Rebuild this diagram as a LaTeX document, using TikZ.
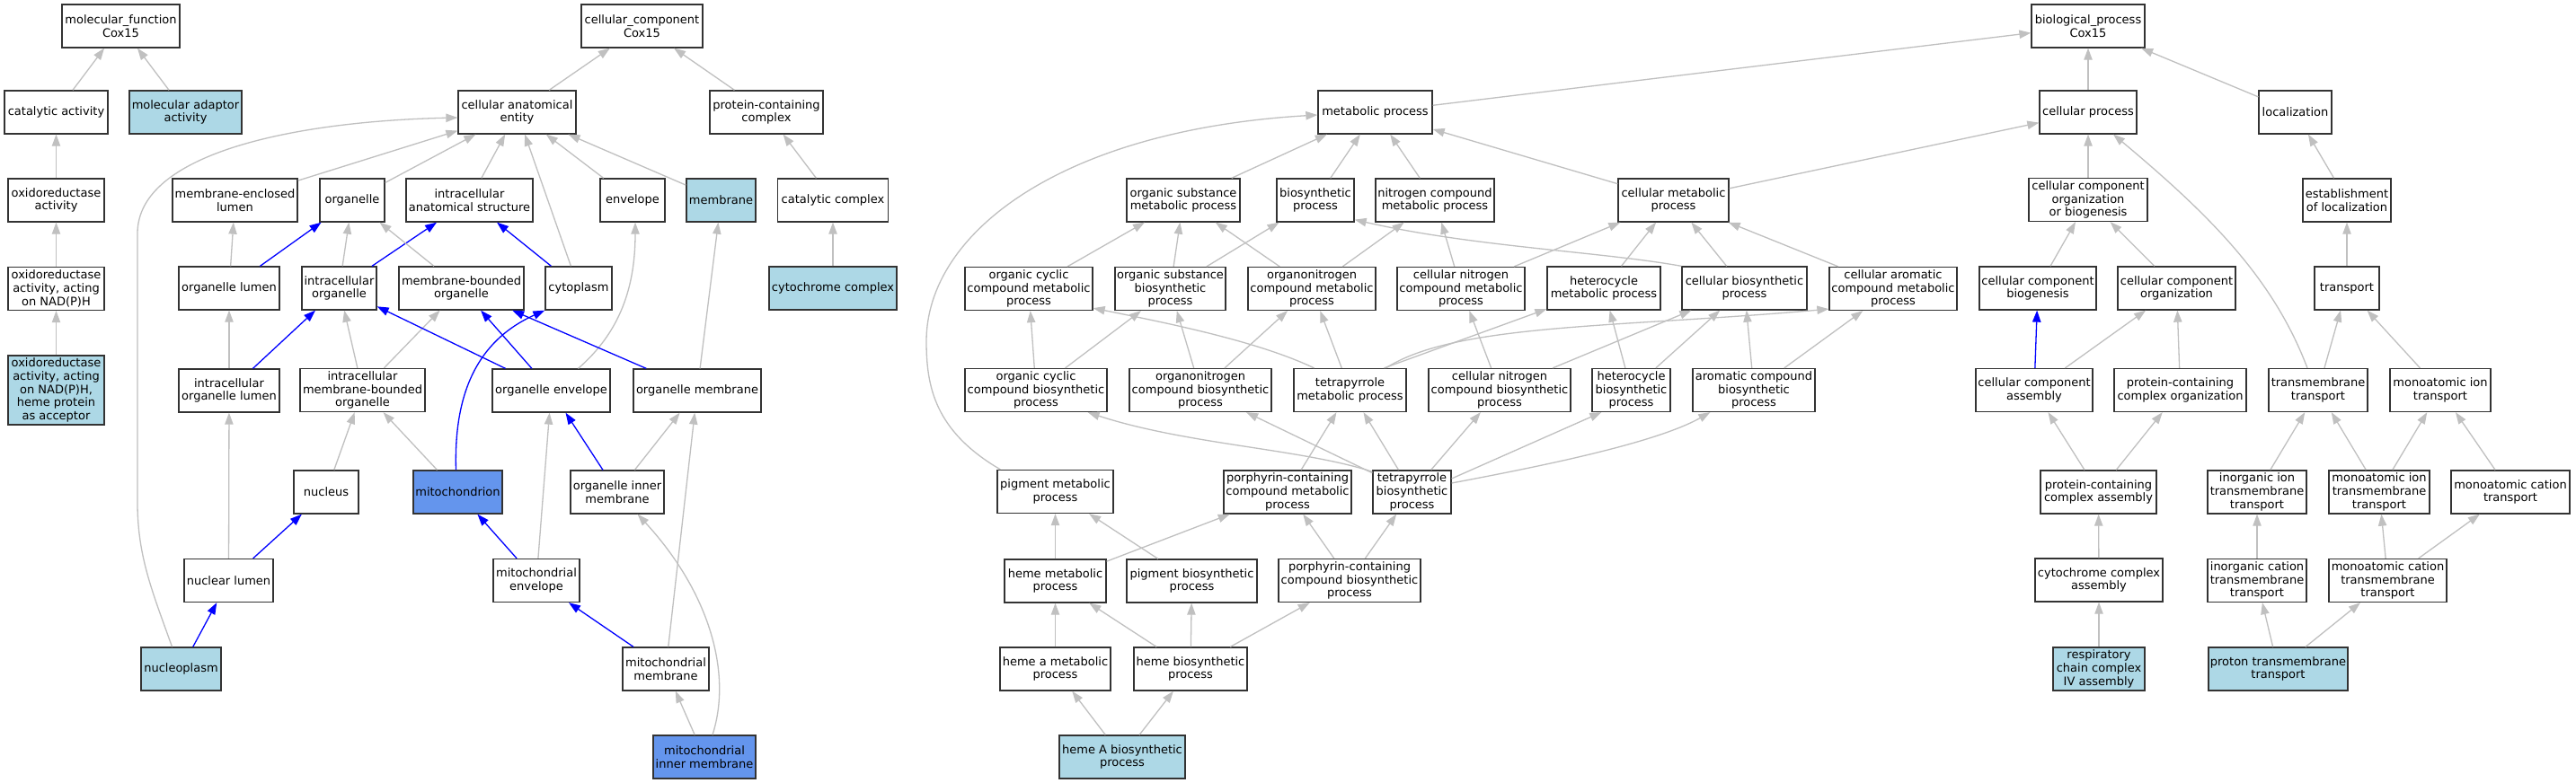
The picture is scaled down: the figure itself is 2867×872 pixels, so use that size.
\documentclass[tikz,border=0pt]{standalone}
\usepackage{fontspec}
\setmainfont{DejaVu Sans}
\usetikzlibrary{arrows.meta}
\definecolor{edgegray}{HTML}{C0C0C0}
\definecolor{lightblue}{HTML}{ADD8E6}
\definecolor{cornflower}{HTML}{6495ED}

\begin{document}
\begin{tikzpicture}[x=1pt,y=-1pt,
    goterm/.style={draw=black!80, line width=1.3pt, fill=white, align=center, inner sep=1pt,
      minimum height=48pt, font=\fontsize{13}{14.7}\selectfont},
    goleaf/.style={goterm, fill=lightblue},
    gohit/.style={goterm, fill=cornflower},
    isa/.style={draw=edgegray, line width=1.3pt, -{Triangle[length=13pt,width=9.3pt]}},
    partof/.style={isa, draw=blue}]
                    \useasboundingbox (0,0) rectangle (2867,872);
                    \fill[white] (0,0) rectangle (2867,872);

                    \node[goterm, minimum width=131pt] (mf) at (134.5,29) {molecular\_function\\Cox15};
                    \node[goterm, minimum width=115pt] (catact) at (62.5,125) {catalytic activity};
                    \node[goleaf, minimum width=125pt] (molad) at (206.5,125) {molecular adaptor\\activity};
                    \node[goterm, minimum width=107pt] (oxred) at (62.5,223) {oxidoreductase\\activity};
                    \node[goterm, minimum width=107pt] (oxnad) at (62.5,321.5) {oxidoreductase\\activity, acting\\on NAD(P)H};
                    \node[goleaf, minimum width=107pt, minimum height=77pt] (oxheme) at (62.5,434.5) {oxidoreductase\\activity, acting\\on NAD(P)H,\\heme protein\\as acceptor};

                    \node[goterm, minimum width=135pt] (cc) at (714.5,29) {cellular\_component\\Cox15};
                    \node[goterm, minimum width=131pt] (cae) at (575.5,125) {cellular anatomical\\entity};
                    \node[goterm, minimum width=126pt] (pcc) at (853,125) {protein-containing\\complex};
                    \node[goterm, minimum width=139pt] (mel) at (261.5,223) {membrane-enclosed\\lumen};
                    \node[goterm, minimum width=72pt] (organelle) at (392,223) {organelle};
                    \node[goterm, minimum width=141pt] (ias) at (522.5,223) {intracellular\\anatomical structure};
                    \node[goterm, minimum width=72pt] (envelope) at (704,223) {envelope};
                    \node[goleaf, minimum width=77pt] (membrane) at (802.5,223) {membrane};
                    \node[goterm, minimum width=123pt] (catcx) at (927,223) {catalytic complex};
                    \node[goterm, minimum width=112pt] (ol) at (255,321) {organelle lumen};
                    \node[goterm, minimum width=83pt] (io) at (377.5,321) {intracellular\\organelle};
                    \node[goterm, minimum width=139pt] (mbo) at (513.5,321) {membrane-bounded\\organelle};
                    \node[goterm, minimum width=74pt] (cytoplasm) at (644,321) {cytoplasm};
                    \node[goleaf, minimum width=142pt] (cytcx) at (927,321) {cytochrome complex};
                    \node[goterm, minimum width=112pt] (iol) at (255,435) {intracellular\\organelle lumen};
                    \node[goterm, minimum width=139pt] (imbo) at (403.5,434.5) {intracellular\\membrane-bounded\\organelle};
                    \node[goterm, minimum width=131pt] (oe) at (613.5,435) {organelle envelope};
                    \node[goterm, minimum width=142pt] (om) at (776,435) {organelle membrane};
                    \node[goterm, minimum width=72pt] (nucleus) at (363,548) {nucleus};
                    \node[gohit, minimum width=99pt] (mito) at (509.5,548) {mitochondrion};
                    \node[goterm, minimum width=104pt] (oim) at (687,548) {organelle inner\\membrane};
                    \node[goterm, minimum width=99pt] (nl) at (254.5,646.5) {nuclear lumen};
                    \node[goterm, minimum width=96pt] (me) at (597,646.5) {mitochondrial\\envelope};
                    \node[goleaf, minimum width=89pt] (np) at (201.5,745) {nucleoplasm};
                    \node[goterm, minimum width=96pt] (mm) at (741,745) {mitochondrial\\membrane};
                    \node[gohit, minimum width=114pt] (mim) at (784,843) {mitochondrial\\inner membrane};

                    \node[goterm, minimum width=126pt] (bp) at (2324,29) {biological\_process\\Cox15};
                    \node[goterm, minimum width=127pt] (mp) at (1530.5,125) {metabolic process};
                    \node[goterm, minimum width=108pt] (cp) at (2324,125) {cellular process};
                    \node[goterm, minimum width=81pt] (loc) at (2554.5,125) {localization};
                    \node[goterm, minimum width=126pt] (osmp) at (1317,223) {organic substance\\metabolic process};
                    \node[goterm, minimum width=86pt] (bsp) at (1464,223) {biosynthetic\\process};
                    \node[goterm, minimum width=132pt] (ncmp) at (1597,223) {nitrogen compound\\metabolic process};
                    \node[goterm, minimum width=123pt] (cmp) at (1862.5,223) {cellular metabolic\\process};
                    \node[goterm, minimum width=132pt] (ccob) at (2324,222.5) {cellular component\\organization\\or biogenesis};
                    \node[goterm, minimum width=98pt] (eol) at (2612,223) {establishment\\of localization};
                    \node[goterm, minimum width=142pt] (occmp) at (1145,321.5) {organic cyclic\\compound metabolic\\process};
                    \node[goterm, minimum width=123pt] (osbp) at (1302.5,321.5) {organic substance\\biosynthetic\\process};
                    \node[goterm, minimum width=142pt] (oncmp) at (1460,321.5) {organonitrogen\\compound metabolic\\process};
                    \node[goterm, minimum width=142pt] (cncmp) at (1626,321.5) {cellular nitrogen\\compound metabolic\\process};
                    \node[goterm, minimum width=126pt] (hmp) at (1785,321) {heterocycle\\metabolic process};
                    \node[goterm, minimum width=139pt] (cbp) at (1941.5,321) {cellular biosynthetic\\process};
                    \node[goterm, minimum width=142pt] (cacmp) at (2107,321.5) {cellular aromatic\\compound metabolic\\process};
                    \node[goterm, minimum width=130pt] (ccb) at (2268,321) {cellular component\\biogenesis};
                    \node[goterm, minimum width=131pt] (cco) at (2422.5,321) {cellular component\\organization};
                    \node[goterm, minimum width=72pt] (transport) at (2612,321) {transport};
                    \node[goterm, minimum width=158pt] (occbp) at (1153,434.5) {organic cyclic\\compound biosynthetic\\process};
                    \node[goterm, minimum width=158pt] (oncbp) at (1336,434.5) {organonitrogen\\compound biosynthetic\\process};
                    \node[goterm, minimum width=125pt] (tmp) at (1502.5,434.5) {tetrapyrrole\\metabolic process};
                    \node[goterm, minimum width=158pt] (cncbp) at (1669,434.5) {cellular nitrogen\\compound biosynthetic\\process};
                    \node[goterm, minimum width=87pt] (hbp) at (1815.5,434.5) {heterocycle\\biosynthetic\\process};
                    \node[goterm, minimum width=136pt] (acbp) at (1952,434.5) {aromatic compound\\biosynthetic\\process};
                    \node[goterm, minimum width=130pt] (cca) at (2264,434.5) {cellular component\\assembly};
                    \node[goterm, minimum width=147pt] (pcco) at (2426.5,434.5) {protein-containing\\complex organization};
                    \node[goterm, minimum width=110pt] (tt) at (2580,434.5) {transmembrane\\transport};
                    \node[goterm, minimum width=112pt] (mit) at (2716,434.5) {monoatomic ion\\transport};
                    \node[goterm, minimum width=129pt] (pmp) at (1174.5,547.5) {pigment metabolic\\process};
                    \node[goterm, minimum width=142pt] (pccmp) at (1433,548) {porphyrin-containing\\compound metabolic\\process};
                    \node[goterm, minimum width=87pt] (tbp) at (1571.5,548) {tetrapyrrole\\biosynthetic\\process};
                    \node[goterm, minimum width=129pt] (pcca) at (2335.5,548) {protein-containing\\complex assembly};
                    \node[goterm, minimum width=110pt] (iitt) at (2512,548) {inorganic ion\\transmembrane\\transport};
                    \node[goterm, minimum width=112pt] (mitt) at (2648,548) {monoatomic ion\\transmembrane\\transport};
                    \node[goterm, minimum width=132pt] (mct) at (2794,548) {monoatomic cation\\transport};
                    \node[goterm, minimum width=113pt] (hemp) at (1174.5,647) {heme metabolic\\process};
                    \node[goterm, minimum width=145pt] (pbp) at (1326.5,647) {pigment biosynthetic\\process};
                    \node[goterm, minimum width=158pt] (pccbp) at (1502,646.5) {porphyrin-containing\\compound biosynthetic\\process};
                    \node[goterm, minimum width=142pt] (ccas) at (2336,646) {cytochrome complex\\assembly};
                    \node[goterm, minimum width=110pt] (ictt) at (2512,646.5) {inorganic cation\\transmembrane\\transport};
                    \node[goterm, minimum width=131pt] (mctt) at (2657.5,646.5) {monoatomic cation\\transmembrane\\transport};
                    \node[goterm, minimum width=123pt] (hamp) at (1174.5,745) {heme a metabolic\\process};
                    \node[goterm, minimum width=126pt] (hbsp) at (1325,745) {heme biosynthetic\\process};
                    \node[goleaf, minimum width=102pt] (rcc) at (2336,745) {respiratory\\chain complex\\IV assembly};
                    \node[goleaf, minimum width=155pt] (ptt) at (2535.5,745) {proton transmembrane\\transport};
                    \node[goleaf, minimum width=140pt] (habp) at (1249,843) {heme A biosynthetic\\process};

                    \draw[isa] (catact) -- (mf);
                    \draw[isa] (molad) -- (mf);
                    \draw[isa] (oxred) -- (catact);
                    \draw[isa] (oxnad) -- (oxred);
                    \draw[isa] (oxheme) -- (oxnad);

                    \draw[isa] (cae) -- (cc);
                    \draw[isa] (pcc) -- (cc);
                    \draw[isa] (catcx) -- (pcc);
                    \draw[isa] (cytcx) -- (catcx);
                    \draw[isa] (mel) -- (cae);
                    \draw[isa] (organelle) -- (cae);
                    \draw[isa] (ias) -- (cae);
                    \draw[isa] (cytoplasm) -- (cae);
                    \draw[isa] (envelope) -- (cae);
                    \draw[isa] (membrane) -- (cae);
                    \draw[isa] ([xshift=-10pt]np.north) .. controls (170,660) and (153,620) .. (153,560) -- (153,260) .. controls (153,170) and (330,135) .. ([yshift=-6pt]cae.west);
                    \draw[isa] (ol) -- (mel);
                    \draw[partof] (ol) -- (organelle);
                    \draw[isa] (io) -- (organelle);
                    \draw[partof] (io) -- (ias);
                    \draw[isa] (mbo) -- (organelle);
                    \draw[partof] (cytoplasm) -- (ias);
                    \draw[isa] (iol) -- (ol);
                    \draw[partof] (iol) -- (io);
                    \draw[isa] (imbo) -- (io);
                    \draw[isa] (imbo) -- (mbo);
                    \draw[partof] (oe) -- (io);
                    \draw[partof] (oe) -- (mbo);
                    \draw[isa] ([xshift=30pt]oe.north) .. controls (690,370) and (707,320) .. ([xshift=3pt]envelope.south);
                    \draw[partof] (om) -- (mbo);
                    \draw[isa] (om) -- (membrane);
                    \draw[partof] ([xshift=-2pt]mito.north) .. controls (505,440) and (530,380) .. (cytoplasm.south west);
                    \draw[isa] (mito) -- (imbo);
                    \draw[isa] (nucleus) -- (imbo);
                    \draw[isa] (nl) -- (iol);
                    \draw[partof] (nl) -- (nucleus);
                    \draw[partof] (np) -- (nl);
                    \draw[partof] (oim) -- (oe);
                    \draw[isa] (oim) -- (om);
                    \draw[partof] (me) -- (mito);
                    \draw[isa] (me) -- (oe);
                    \draw[partof] (mm) -- (me);
                    \draw[isa] (mm) -- (om);
                    \draw[isa] (mim) -- (mm);
                    \draw[isa] ([xshift=9pt]mim.north) .. controls (815,750) and (790,660) .. (oim);

                    \draw[isa] (mp) -- (bp);
                    \draw[isa] (cp) -- (bp);
                    \draw[isa] (loc) -- (bp);
                    \draw[isa] (osmp) -- (mp);
                    \draw[isa] (bsp) -- (mp);
                    \draw[isa] (ncmp) -- (mp);
                    \draw[isa] (cmp) -- (mp);
                    \draw[isa] (cmp) -- (cp);
                    \draw[isa] ([xshift=4pt]pmp.north west) .. controls (1040,480) and (1031,430) .. (1031,380) .. controls (1031,260) and (1180,145) .. ([yshift=-3pt]mp.west);
                    \draw[isa] (occmp) -- (osmp);
                    \draw[isa] (osbp) -- (osmp);
                    \draw[isa] (osbp) -- (bsp);
                    \draw[isa] (oncmp) -- (osmp);
                    \draw[isa] (oncmp) -- (ncmp);
                    \draw[isa] (cncmp) -- (ncmp);
                    \draw[isa] (cncmp) -- (cmp);
                    \draw[isa] (hmp) -- (cmp);
                    \draw[isa] (cbp) -- (cmp);
                    \draw[isa] (cbp.north west) .. controls (1780,280) and (1640,275) .. ([yshift=3pt]bsp.south east);
                    \draw[isa] (cacmp) -- (cmp);
                    \draw[isa] (occbp) -- (occmp);
                    \draw[isa] (occbp) -- (osbp);
                    \draw[isa] (oncbp) -- (osbp);
                    \draw[isa] (oncbp) -- (oncmp);
                    \draw[isa] ([xshift=-40pt]tmp.north) .. controls (1400,380) and (1300,360) .. ([yshift=3pt]occmp.south east);
                    \draw[isa] (tmp) -- (oncmp);
                    \draw[isa] ([xshift=38pt]tmp.north) -- (hmp);
                    \draw[isa] ([xshift=40pt]tmp.north) .. controls (1620,360) and (1800,365) .. ([yshift=2pt]cacmp.south west);
                    \draw[isa] (cncbp) -- (cncmp);
                    \draw[isa] (cncbp) -- (cbp);
                    \draw[isa] (hbp) -- (hmp);
                    \draw[isa] (hbp) -- (cbp);
                    \draw[isa] (acbp) -- (cbp);
                    \draw[isa] (acbp) -- (cacmp);
                    \draw[isa] (tbp) -- (tmp);
                    \draw[isa] (tbp) -- (cncbp);
                    \draw[isa] ([yshift=15pt]tbp.east) -- ([xshift=11pt]hbp.south west);
                    \draw[isa] ([yshift=10pt]tbp.east) .. controls (1700,522) and (1840,495) .. ([xshift=20pt]acbp.south west);
                    \draw[isa] (tbp) -- (oncbp);
                    \draw[isa] ([yshift=-2pt]tbp.north west) .. controls (1450,500) and (1320,495) .. ([xshift=-22pt]occbp.south east);
                    \draw[isa] (pccmp) -- (tmp);
                    \draw[isa] (pccbp) -- (pccmp);
                    \draw[isa] (pccbp) -- (tbp);
                    \draw[isa] (hemp) -- (pmp);
                    \draw[isa] (hemp) -- (pccmp);
                    \draw[isa] (pbp) -- (pmp);
                    \draw[isa] (hamp) -- (hemp);
                    \draw[isa] (hbsp) -- (hemp);
                    \draw[isa] (hbsp) -- (pbp);
                    \draw[isa] (hbsp) -- (pccbp);
                    \draw[isa] (habp) -- (hamp);
                    \draw[isa] (habp) -- (hbsp);

                    \draw[isa] (ccob) -- (cp);
                    \draw[isa] ([xshift=-12pt]tt.north) .. controls (2530,310) and (2460,240) .. ([xshift=28pt]cp.south);
                    \draw[isa] (eol) -- (loc);
                    \draw[isa] (ccb) -- (ccob);
                    \draw[isa] (cco) -- (ccob);
                    \draw[isa] (transport) -- (eol);
                    \draw[partof] (cca) -- (ccb);
                    \draw[isa] (cca) -- (cco);
                    \draw[isa] (pcco) -- (cco);
                    \draw[isa] (tt) -- (transport);
                    \draw[isa] (mit) -- (transport);
                    \draw[isa] (pcca) -- (cca);
                    \draw[isa] (pcca) -- (pcco);
                    \draw[isa] (iitt) -- (tt);
                    \draw[isa] (mitt) -- (tt);
                    \draw[isa] (mitt) -- (mit);
                    \draw[isa] (mct) -- (mit);
                    \draw[isa] (ccas) -- (pcca);
                    \draw[isa] (ictt) -- (iitt);
                    \draw[isa] (mctt) -- (mitt);
                    \draw[isa] (mctt) -- (mct);
                    \draw[isa] (rcc) -- (ccas);
                    \draw[isa] (ptt) -- (ictt);
                    \draw[isa] (ptt) -- (mctt);
                \end{tikzpicture}
\end{document}
